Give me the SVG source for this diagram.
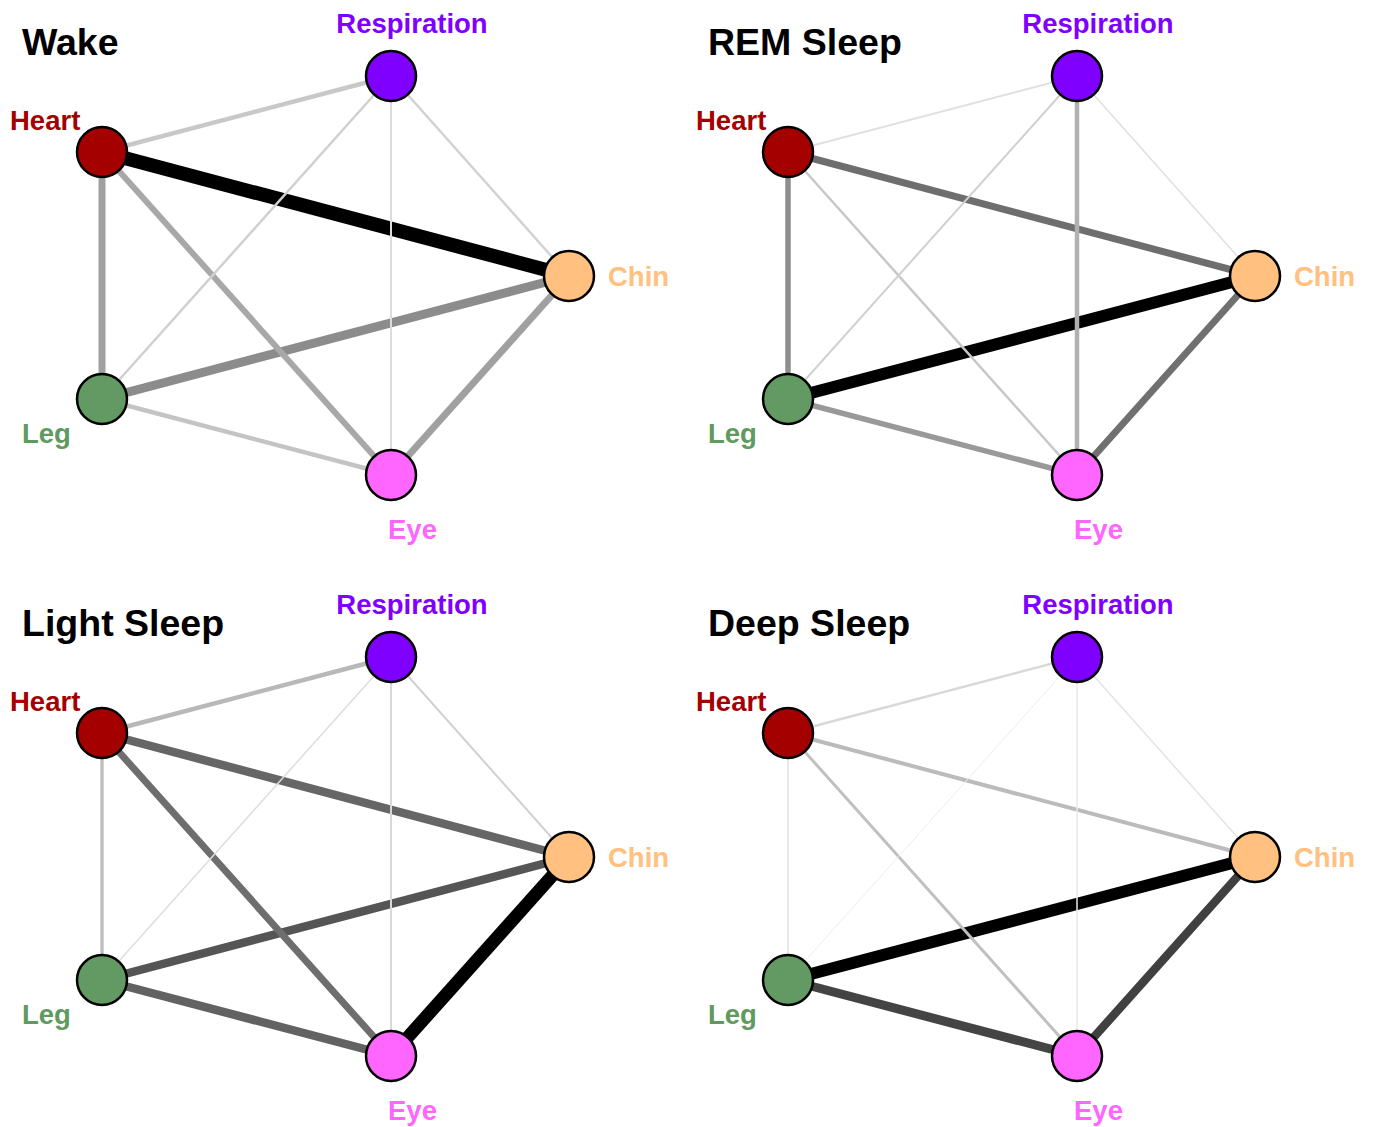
<svg xmlns="http://www.w3.org/2000/svg" width="1373" height="1127" viewBox="0 0 1373 1127">
<style>
  text { font-family: "Liberation Sans", Arial, sans-serif; font-weight: bold; }
  .title { font-size: 37.5px; fill: #000; }
  .lbl { font-size: 27.5px; }
  .node { stroke: #000; stroke-width: 2.5; }
  .edges line { stroke-linecap: butt; }
  .resp { fill: #7F00FF; } .heart { fill: #A50000; } .chin { fill: #FFC080; } .leg { fill: #639963; } .eye { fill: #FF66FF; }
  .tresp { fill: #8000FF; } .theart { fill: #A50000; } .tchin { fill: #FFC080; } .tleg { fill: #5F9A5F; } .teye { fill: #FF66FF; }
</style>
<rect width="1373" height="1127" fill="#fff"/>

<g id="connectors">
  <!-- Wake -->
  <g class="edges" transform="translate(0,0)">
    <line x1="102" y1="152" x2="569" y2="276" stroke="#000" stroke-width="14"/>
    <line x1="102" y1="399" x2="569" y2="276" stroke="#8c8c8c" stroke-width="9"/>
    <line x1="569" y1="276" x2="391" y2="475" stroke="#a0a0a0" stroke-width="7"/>
    <line x1="102" y1="399" x2="391" y2="475" stroke="#c4c4c4" stroke-width="4.5"/>
    <line x1="102" y1="152" x2="102" y2="399" stroke="#a0a0a0" stroke-width="7"/>
    <line x1="102" y1="152" x2="391" y2="76" stroke="#c8c8c8" stroke-width="4.5"/>
    <line x1="391" y1="76" x2="569" y2="276" stroke="#d2d2d2" stroke-width="2.5"/>
    <line x1="102" y1="152" x2="391" y2="475" stroke="#a8a8a8" stroke-width="6"/>
    <line x1="391" y1="76" x2="102" y2="399" stroke="#d0d0d0" stroke-width="2.5"/>
    <line x1="391" y1="76" x2="391" y2="475" stroke="#dcdcdc" stroke-width="2"/>
  </g>
  <!-- REM -->
  <g class="edges" transform="translate(686,0)">
    <line x1="102" y1="152" x2="569" y2="276" stroke="#6e6e6e" stroke-width="7"/>
    <line x1="102" y1="399" x2="569" y2="276" stroke="#000" stroke-width="12"/>
    <line x1="569" y1="276" x2="391" y2="475" stroke="#707070" stroke-width="7"/>
    <line x1="102" y1="399" x2="391" y2="475" stroke="#999" stroke-width="5.5"/>
    <line x1="102" y1="152" x2="102" y2="399" stroke="#8e8e8e" stroke-width="5.5"/>
    <line x1="102" y1="152" x2="391" y2="76" stroke="#e0e0e0" stroke-width="2"/>
    <line x1="391" y1="76" x2="569" y2="276" stroke="#e0e0e0" stroke-width="1.5"/>
    <line x1="102" y1="152" x2="391" y2="475" stroke="#c8c8c8" stroke-width="2.5"/>
    <line x1="391" y1="76" x2="102" y2="399" stroke="#d0d0d0" stroke-width="2"/>
    <line x1="391" y1="76" x2="391" y2="475" stroke="#b0b0b0" stroke-width="4.5"/>
  </g>
  <!-- Light -->
  <g class="edges" transform="translate(0,581)">
    <line x1="102" y1="152" x2="569" y2="276" stroke="#666" stroke-width="8.5"/>
    <line x1="102" y1="399" x2="569" y2="276" stroke="#555" stroke-width="8.5"/>
    <line x1="569" y1="276" x2="391" y2="475" stroke="#000" stroke-width="13"/>
    <line x1="102" y1="399" x2="391" y2="475" stroke="#626262" stroke-width="8.5"/>
    <line x1="102" y1="152" x2="102" y2="399" stroke="#c0c0c0" stroke-width="3.5"/>
    <line x1="102" y1="152" x2="391" y2="76" stroke="#b8b8b8" stroke-width="4.5"/>
    <line x1="391" y1="76" x2="569" y2="276" stroke="#d0d0d0" stroke-width="2"/>
    <line x1="102" y1="152" x2="391" y2="475" stroke="#6e6e6e" stroke-width="7"/>
    <line x1="391" y1="76" x2="102" y2="399" stroke="#dddddd" stroke-width="1.5"/>
    <line x1="391" y1="76" x2="391" y2="475" stroke="#d8d8d8" stroke-width="2"/>
  </g>
  <!-- Deep -->
  <g class="edges" transform="translate(686,581)">
    <line x1="102" y1="152" x2="569" y2="276" stroke="#bbbbbb" stroke-width="4"/>
    <line x1="102" y1="399" x2="569" y2="276" stroke="#000" stroke-width="12"/>
    <line x1="569" y1="276" x2="391" y2="475" stroke="#404040" stroke-width="8.5"/>
    <line x1="102" y1="399" x2="391" y2="475" stroke="#444" stroke-width="9"/>
    <line x1="102" y1="152" x2="102" y2="399" stroke="#e0e0e0" stroke-width="1.5"/>
    <line x1="102" y1="152" x2="391" y2="76" stroke="#d8d8d8" stroke-width="2.5"/>
    <line x1="391" y1="76" x2="569" y2="276" stroke="#e4e4e4" stroke-width="1.5"/>
    <line x1="102" y1="152" x2="391" y2="475" stroke="#c0c0c0" stroke-width="3"/>
    <line x1="391" y1="76" x2="102" y2="399" stroke="#ececec" stroke-width="1"/>
    <line x1="391" y1="76" x2="391" y2="475" stroke="#e8e8e8" stroke-width="1.5"/>
  </g>
</g>

<g id="titles">
  <text class="title" x="22" y="55">Wake</text>
  <text class="title" x="708" y="55">REM Sleep</text>
  <text class="title" x="22" y="636">Light Sleep</text>
  <text class="title" x="708" y="636">Deep Sleep</text>
</g>

<!-- Wake nodes -->
<g id="wake-respiration"><circle class="node resp" cx="391" cy="76" r="25"/><text class="lbl tresp" x="412" y="33" text-anchor="middle">Respiration</text></g>
<g id="wake-heart"><circle class="node heart" cx="102" cy="152" r="25"/><text class="lbl theart" x="10" y="130">Heart</text></g>
<g id="wake-chin"><circle class="node chin" cx="569" cy="276" r="25"/><text class="lbl tchin" x="608" y="286">Chin</text></g>
<g id="wake-leg"><circle class="node leg" cx="102" cy="399" r="25"/><text class="lbl tleg" x="22" y="443">Leg</text></g>
<g id="wake-eye"><circle class="node eye" cx="391" cy="475" r="25"/><text class="lbl teye" x="388" y="539">Eye</text></g>

<!-- REM nodes -->
<g id="rem-respiration"><circle class="node resp" cx="1077" cy="76" r="25"/><text class="lbl tresp" x="1098" y="33" text-anchor="middle">Respiration</text></g>
<g id="rem-heart"><circle class="node heart" cx="788" cy="152" r="25"/><text class="lbl theart" x="696" y="130">Heart</text></g>
<g id="rem-chin"><circle class="node chin" cx="1255" cy="276" r="25"/><text class="lbl tchin" x="1294" y="286">Chin</text></g>
<g id="rem-leg"><circle class="node leg" cx="788" cy="399" r="25"/><text class="lbl tleg" x="708" y="443">Leg</text></g>
<g id="rem-eye"><circle class="node eye" cx="1077" cy="475" r="25"/><text class="lbl teye" x="1074" y="539">Eye</text></g>

<!-- Light nodes -->
<g id="light-respiration"><circle class="node resp" cx="391" cy="657" r="25"/><text class="lbl tresp" x="412" y="614" text-anchor="middle">Respiration</text></g>
<g id="light-heart"><circle class="node heart" cx="102" cy="733" r="25"/><text class="lbl theart" x="10" y="711">Heart</text></g>
<g id="light-chin"><circle class="node chin" cx="569" cy="857" r="25"/><text class="lbl tchin" x="608" y="867">Chin</text></g>
<g id="light-leg"><circle class="node leg" cx="102" cy="980" r="25"/><text class="lbl tleg" x="22" y="1024">Leg</text></g>
<g id="light-eye"><circle class="node eye" cx="391" cy="1056" r="25"/><text class="lbl teye" x="388" y="1120">Eye</text></g>

<!-- Deep nodes -->
<g id="deep-respiration"><circle class="node resp" cx="1077" cy="657" r="25"/><text class="lbl tresp" x="1098" y="614" text-anchor="middle">Respiration</text></g>
<g id="deep-heart"><circle class="node heart" cx="788" cy="733" r="25"/><text class="lbl theart" x="696" y="711">Heart</text></g>
<g id="deep-chin"><circle class="node chin" cx="1255" cy="857" r="25"/><text class="lbl tchin" x="1294" y="867">Chin</text></g>
<g id="deep-leg"><circle class="node leg" cx="788" cy="980" r="25"/><text class="lbl tleg" x="708" y="1024">Leg</text></g>
<g id="deep-eye"><circle class="node eye" cx="1077" cy="1056" r="25"/><text class="lbl teye" x="1074" y="1120">Eye</text></g>
</svg>
